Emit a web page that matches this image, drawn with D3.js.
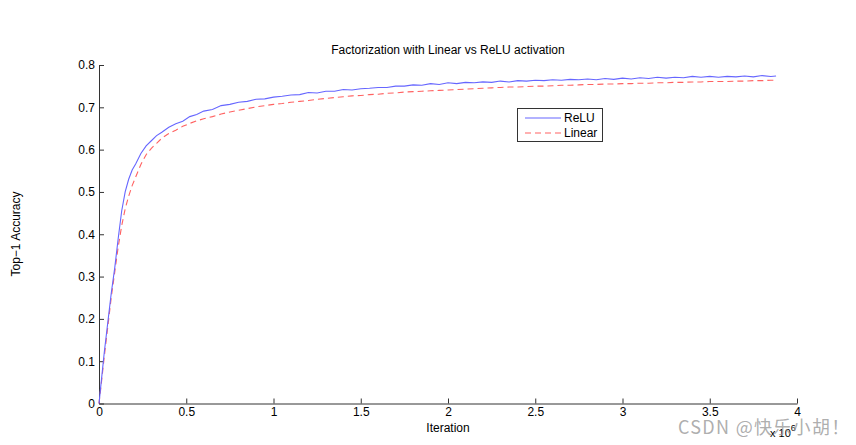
<!DOCTYPE html>
<html>
<head>
<meta charset="utf-8">
<script src="https://cdn.jsdelivr.net/npm/d3@7"></script>
<style>
  html, body { margin: 0; padding: 0; background: #fff; }
  svg { display: block; font-family: "Liberation Sans", Arial, Helvetica, sans-serif; }
</style>
</head>
<body>
<svg id="chart" width="856" height="445"></svg>
<script>
// iterations in units of 1e6
const iterations = [0, 0.01, 0.03, 0.05, 0.07, 0.09, 0.11, 0.13, 0.15, 0.17, 0.19, 0.21, 0.24, 0.27, 0.30, 0.33, 0.36, 0.40, 0.44, 0.48, 0.52, 0.56, 0.60, 0.65, 0.70, 0.75, 0.80, 0.85, 0.90, 0.95, 1.00,
  1.05, 1.10, 1.15, 1.20, 1.25, 1.30, 1.35, 1.40, 1.45, 1.50, 1.55, 1.60, 1.65, 1.70, 1.75, 1.80, 1.85, 1.90, 1.95, 2.00,
  2.05, 2.10, 2.15, 2.20, 2.25, 2.30, 2.35, 2.40, 2.45, 2.50, 2.55, 2.60, 2.65, 2.70, 2.75, 2.80, 2.85, 2.90, 2.95, 3.00,
  3.05, 3.10, 3.15, 3.20, 3.25, 3.30, 3.35, 3.40, 3.45, 3.50, 3.55, 3.60, 3.65, 3.70, 3.75, 3.80, 3.85, 3.88];

const reluAcc = [0, 0.04, 0.12, 0.19, 0.26, 0.32, 0.39, 0.455, 0.50, 0.53, 0.552, 0.566, 0.591, 0.609, 0.621, 0.633, 0.641, 0.653, 0.661, 0.667, 0.678, 0.683, 0.691, 0.695, 0.704, 0.707, 0.712, 0.714, 0.719, 0.720, 0.724,
  0.726, 0.729, 0.730, 0.735, 0.734, 0.738, 0.738, 0.742, 0.741, 0.744, 0.745, 0.747, 0.747, 0.750, 0.750, 0.753, 0.752, 0.756, 0.754, 0.758,
  0.756, 0.759, 0.758, 0.760, 0.759, 0.762, 0.760, 0.763, 0.762, 0.764, 0.763, 0.765, 0.764, 0.766, 0.765, 0.767, 0.765, 0.768, 0.766, 0.769,
  0.767, 0.770, 0.768, 0.771, 0.769, 0.771, 0.770, 0.773, 0.771, 0.773, 0.771, 0.773, 0.772, 0.774, 0.772, 0.775, 0.773, 0.774];

const linearAcc = [0, 0.035, 0.11, 0.18, 0.25, 0.31, 0.37, 0.42, 0.46, 0.49, 0.515, 0.535, 0.565, 0.588, 0.603, 0.615, 0.627, 0.638, 0.646, 0.655, 0.662, 0.668, 0.673, 0.678, 0.684, 0.689, 0.693, 0.697, 0.701, 0.704, 0.707,
  0.709, 0.712, 0.714, 0.716, 0.719, 0.721, 0.723, 0.725, 0.727, 0.728, 0.730, 0.731, 0.733, 0.734, 0.736, 0.737, 0.738, 0.739, 0.740, 0.741,
  0.742, 0.743, 0.744, 0.745, 0.746, 0.747, 0.748, 0.748, 0.749, 0.750, 0.750, 0.751, 0.752, 0.752, 0.753, 0.754, 0.754, 0.755, 0.755, 0.756,
  0.756, 0.757, 0.757, 0.758, 0.758, 0.759, 0.759, 0.760, 0.760, 0.761, 0.761, 0.761, 0.762, 0.762, 0.763, 0.763, 0.764, 0.764];

const xTicks = [0, 0.5, 1, 1.5, 2, 2.5, 3, 3.5, 4];
const yTicks = [0, 0.1, 0.2, 0.3, 0.4, 0.5, 0.6, 0.7, 0.8];
const seriesNames = ["ReLU", "Linear"];

(function () {
const svg = d3.select("#chart");
const mLeft = 99, mRight = 797, mTop = 65, mBottom = 403.5;

const x = d3.scaleLinear().domain([0, 4]).range([mLeft, mRight]);
const y = d3.scaleLinear().domain([0, 0.8]).range([mBottom, mTop]);

const axisColor = "#333";

const gx = svg.append("g").attr("transform", `translate(0,${mBottom})`)
  .call(d3.axisBottom(x).tickValues(xTicks).tickFormat(d3.format("")).tickSizeInner(-5).tickSizeOuter(0).tickPadding(4));
const gy = svg.append("g").attr("transform", `translate(${mLeft},0)`)
  .call(d3.axisLeft(y).tickValues(yTicks).tickFormat(d3.format("")).tickSizeInner(-5).tickSizeOuter(0).tickPadding(4));

[gx, gy].forEach(g => {
  g.select(".domain").attr("stroke", axisColor);
  g.selectAll(".tick line").attr("stroke", axisColor);
  g.selectAll(".tick text").attr("fill", "#000").style("font-size", "12px")
    .style("font-family", "'Liberation Sans', Arial, sans-serif");
});

const data = iterations.map((it, i) => ({ it, relu: reluAcc[i], lin: linearAcc[i] }));

const lineRelu = d3.line().x(d => x(d.it)).y(d => y(d.relu));
const lineLin = d3.line().x(d => x(d.it)).y(d => y(d.lin));

svg.append("path").datum(data).attr("d", lineLin)
  .attr("fill", "none").attr("stroke", "#ff6262").attr("stroke-width", 1.1)
  .attr("stroke-dasharray", "6,4");
svg.append("path").datum(data).attr("d", lineRelu)
  .attr("fill", "none").attr("stroke", "#6666ff").attr("stroke-width", 1.1);

svg.append("text").attr("x", 448).attr("y", 54).attr("text-anchor", "middle")
  .style("font-size", "12px").text("Factorization with Linear vs ReLU activation");

svg.append("text").attr("x", 448).attr("y", 432).attr("text-anchor", "middle")
  .style("font-size", "12px").text("Iteration");

svg.append("text").attr("transform", "translate(20,234) rotate(-90)").attr("text-anchor", "middle")
  .style("font-size", "12px").text("Top\u22121 Accuracy");

const ex = svg.append("text").attr("x", 770).attr("y", 437).style("font-size", "11px");
ex.append("tspan").text("x 10");
ex.append("tspan").attr("dy", -6).style("font-size", "9px").text("6");

const lg = svg.append("g");
lg.append("rect").attr("x", 517.5).attr("y", 108.5).attr("width", 85).attr("height", 33)
  .attr("fill", "#fff").attr("stroke", "#333").attr("stroke-width", 1);
const legendItems = [
  { name: seriesNames[0], color: "#6666ff", dash: null },
  { name: seriesNames[1], color: "#ff6262", dash: "6,4" }
];
legendItems.forEach((d, i) => {
  const yy = 118 + i * 15;
  lg.append("line").attr("x1", 525).attr("x2", 561).attr("y1", yy).attr("y2", yy)
    .attr("stroke", d.color).attr("stroke-width", 1.1).attr("stroke-dasharray", d.dash);
  lg.append("text").attr("x", 564).attr("y", yy + 4).style("font-size", "12px").text(d.name);
});

svg.append("text").attr("x", 678).attr("y", 434).style("font-size", "18px")
  .style("letter-spacing", "1.3px")
  .style("font-family", "'Noto Sans CJK SC', 'Liberation Sans', sans-serif")
  .attr("fill", "#999").attr("fill-opacity", 0.8).text("CSDN @快乐小胡！");
})();
</script>
</body>
</html>
